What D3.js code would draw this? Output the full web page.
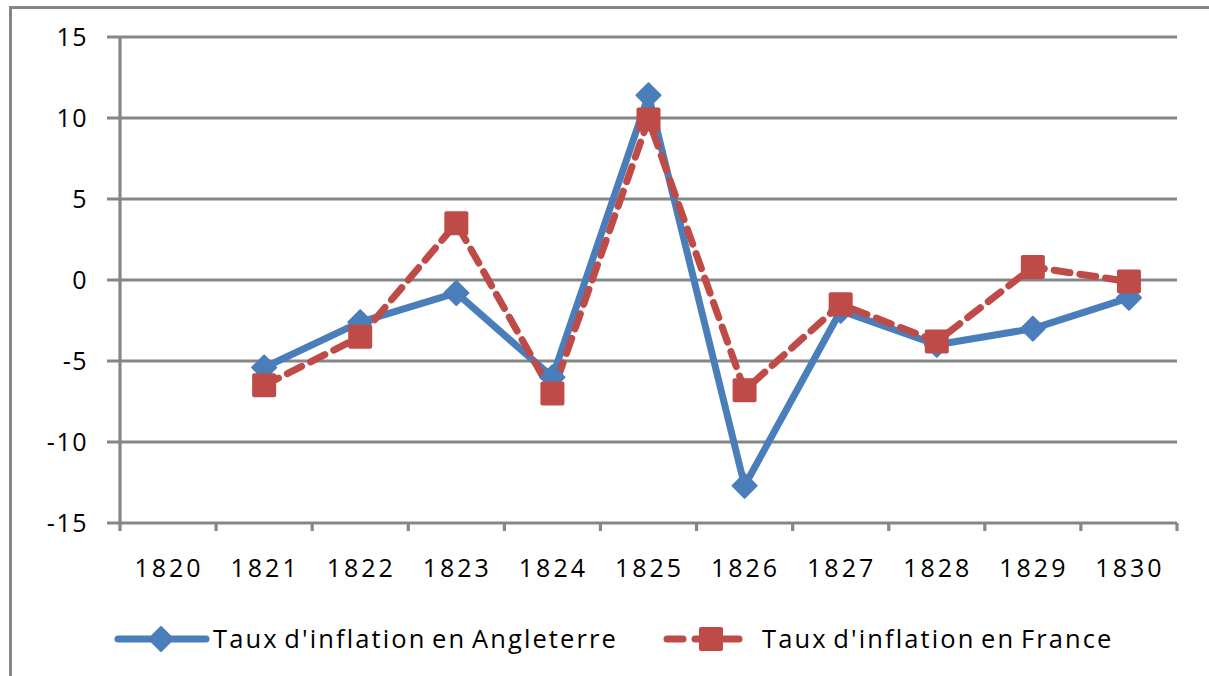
<!DOCTYPE html>
<html><head><meta charset="utf-8">
<script src="https://cdn.jsdelivr.net/npm/d3@7"></script>
<style>body{margin:0;background:#fff}svg{display:block}text{font-family:"Open Sans",sans-serif;fill:#000}</style>
</head><body>
<svg id="c" width="1209" height="676"></svg>
<script>
const years = ["1820","1821","1822","1823","1824","1825","1826","1827","1828","1829","1830"];
const angleterre = [null,-5.4,-2.6,-0.8,-6.0,11.4,-12.7,-1.9,-4.0,-3.0,-1.1];
const france = [null,-6.5,-3.5,3.5,-7.0,9.9,-6.8,-1.5,-3.8,0.8,-0.1];
const yTicks = [-15,-10,-5,0,5,10,15];
const seriesNames = ["Taux d'inflation en Angleterre","Taux d'inflation en France"];

const svg = d3.select("#c");
const grid = "#868686";
// frame
svg.append("rect").attr("x",10.5).attr("y",7.5).attr("width",1230).attr("height",700)
  .attr("fill","none").attr("stroke",grid).attr("stroke-width",3);

const x = d3.scaleBand().domain(years).range([120,1177]).padding(0);
const y = d3.scaleLinear().domain([-15,15]).range([523,37]);

// gridlines
svg.append("g").selectAll("line").data(yTicks).join("line")
  .attr("x1",107).attr("x2",1177).attr("y1",d=>y(d)).attr("y2",d=>y(d))
  .attr("stroke",grid).attr("stroke-width",3.2);
// y axis line
svg.append("line").attr("x1",120).attr("x2",120).attr("y1",37).attr("y2",531)
  .attr("stroke",grid).attr("stroke-width",3.2);
// x ticks at band boundaries
const bounds = years.map(d=>x(d)).concat([x(years[years.length-1])+x.bandwidth()]);
svg.append("g").selectAll("line").data(bounds.slice(1)).join("line")
  .attr("x1",d=>d).attr("x2",d=>d).attr("y1",523).attr("y2",531)
  .attr("stroke",grid).attr("stroke-width",3.2);

// y labels
svg.append("g").selectAll("text").data(yTicks).join("text")
  .attr("x",88).attr("y",d=>y(d)).attr("dy","0.36em").attr("text-anchor","end")
  .attr("font-size",25).attr("letter-spacing",1.5).text(d=>d);
// x labels
svg.append("g").selectAll("text").data(years).join("text")
  .attr("x",d=>x(d)+x.bandwidth()/2+1).attr("y",577).attr("text-anchor","middle")
  .attr("font-size",25).attr("letter-spacing",3).text(d=>d);

const blue = "#4A7EBB", red = "#BE4B48";
const cx = i => x(years[i])+x.bandwidth()/2;
const line = d3.line().defined(d=>d.v!==null).x(d=>cx(d.i)).y(d=>y(d.v));
const A = angleterre.map((v,i)=>({v,i})), F = france.map((v,i)=>({v,i}));

svg.append("path").datum(A).attr("d",line).attr("fill","none").attr("stroke",blue)
  .attr("stroke-width",7).attr("stroke-linejoin","round");
svg.append("path").datum(F).attr("d",line).attr("fill","none").attr("stroke",red)
  .attr("stroke-width",7).attr("stroke-dasharray","16,10").attr("stroke-linecap","round").attr("stroke-linejoin","round");

const diamond = s => `M0,${-s}L${s},0L0,${s}L${-s},0Z`;
svg.append("g").selectAll("path").data(A.filter(d=>d.v!==null)).join("path")
  .attr("transform",d=>`translate(${cx(d.i)},${y(d.v)})`).attr("d",diamond(12))
  .attr("fill",blue).attr("stroke",blue).attr("stroke-width",2).attr("stroke-linejoin","round");
svg.append("g").selectAll("rect").data(F.filter(d=>d.v!==null)).join("rect")
  .attr("x",d=>cx(d.i)-12).attr("y",d=>y(d.v)-12).attr("width",24).attr("height",24)
  .attr("rx",2).attr("fill",red);

// legend
const ly = 639;
const lg = svg.append("g");
lg.append("line").attr("x1",118).attr("x2",206).attr("y1",ly).attr("y2",ly)
  .attr("stroke",blue).attr("stroke-width",7).attr("stroke-linecap","round");
lg.append("path").attr("transform",`translate(161,${ly})`).attr("d",diamond(12))
  .attr("fill",blue).attr("stroke",blue).attr("stroke-width",2).attr("stroke-linejoin","round");
lg.append("text").attr("x",213).attr("y",ly).attr("dy","0.36em").attr("font-size",25.5)
  .attr("letter-spacing",2.1).attr("word-spacing",-3).text(seriesNames[0]);
lg.append("line").attr("x1",667).attr("x2",746).attr("y1",ly).attr("y2",ly)
  .attr("stroke",red).attr("stroke-width",7).attr("stroke-dasharray","16,12").attr("stroke-linecap","round");
lg.append("rect").attr("x",699).attr("y",ly-12).attr("width",24).attr("height",24).attr("rx",2).attr("fill",red);
lg.append("text").attr("x",762).attr("y",ly).attr("dy","0.36em").attr("font-size",25.5)
  .attr("letter-spacing",2.1).attr("word-spacing",-3).text(seriesNames[1]);
</script>
</body></html>
